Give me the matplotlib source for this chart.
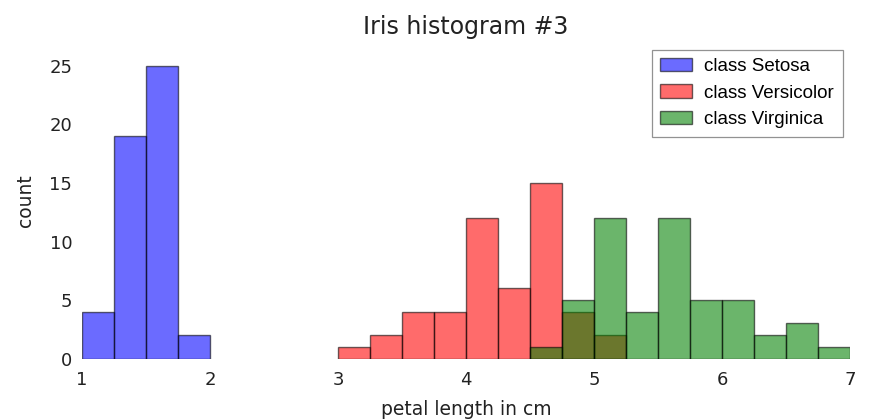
import matplotlib
matplotlib.use("Agg")
from matplotlib import pyplot as plt
import numpy as np

# bin edges (0.25 cm wide) and counts per class
bin_left = [1.0, 1.25, 1.5, 1.75, 2.0, 2.25, 2.5, 2.75, 3.0, 3.25, 3.5, 3.75,
            4.0, 4.25, 4.5, 4.75, 5.0, 5.25, 5.5, 5.75, 6.0, 6.25, 6.5, 6.75]
setosa = [4, 19, 25, 2, 0, 0, 0, 0, 0, 0, 0, 0,
          0, 0, 0, 0, 0, 0, 0, 0, 0, 0, 0, 0]
versicolor = [0, 0, 0, 0, 0, 0, 0, 0, 1, 2, 4, 4,
              12, 6, 15, 4, 2, 0, 0, 0, 0, 0, 0, 0]
virginica = [0, 0, 0, 0, 0, 0, 0, 0, 0, 0, 0, 0,
             0, 0, 1, 5, 12, 4, 12, 5, 5, 2, 3, 1]

labels = ["class Setosa", "class Versicolor", "class Virginica"]
colors = ["blue", "red", "green"]
bin_w = 0.25

fig = plt.figure(figsize=(8.69, 4.2), dpi=100)
ax = fig.add_axes([0.0944, 0.1464, 0.8838, 0.7536])

for counts, lab, col in zip([setosa, versicolor, virginica], labels, colors):
    x = np.array(bin_left)
    y = np.array(counts)
    keep = y > 0
    ax.bar(x[keep], y[keep], width=bin_w, align="edge", color=col, alpha=0.58,
           edgecolor="black", linewidth=1, label=lab)

ax.set_xlim(1, 7)
ax.set_ylim(0, 27.05)
ax.set_yticks([0, 5, 10, 15, 20, 25])
ax.set_xticks([1, 2, 3, 4, 5, 6, 7])
for s in ax.spines.values():
    s.set_visible(False)
ax.tick_params(length=0, labelsize=13, colors="#222222")
ax.tick_params(axis="x", pad=9)
ax.tick_params(axis="y", pad=7)

ax.set_title("Iris histogram #3", fontsize=17, pad=6, color="#222222")
ax.set_xlabel("petal length in cm", fontsize=13.5, labelpad=8, color="#222222")
ax.set_ylabel("count", fontsize=13.5, labelpad=10, color="#222222")

leg = ax.legend(loc="upper right", prop={"family": "Liberation Sans", "size": 13.5},
                fancybox=False, edgecolor="#777777", borderpad=0.45,
                handlelength=1.7, handletextpad=0.64, labelspacing=0.5,
                borderaxespad=0.4)
leg.get_frame().set_linewidth(0.9)

plt.savefig("out.png", dpi=100)
